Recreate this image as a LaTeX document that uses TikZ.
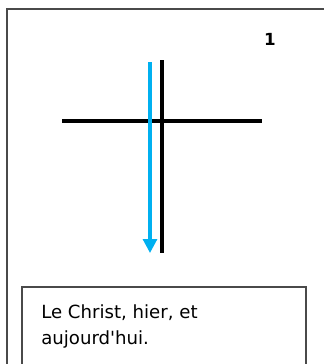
\documentclass[tikz,border=0pt]{standalone}
\usepackage{fontspec}
\setmainfont[Ligatures=TeXOff]{DejaVu Sans}
\usepackage{xcolor}
\usepackage{tikz}
\usetikzlibrary{arrows.meta,positioning}

\definecolor{crossblue}{HTML}{00B0F0}
\definecolor{framegray}{HTML}{4A4A4A}

\begin{document}
\begin{tikzpicture}[
    x=0.75pt,
    y=-0.75pt,
    frame/.style={
        draw=framegray,
        line width=1.2pt
    },
    beam/.style={
        line width=2.3pt,
        black
    },
    flow/.style={
        -{Triangle[length=10.5pt,width=10.5pt]},
        line width=2.3pt,
        crossblue
    },
    numlabel/.style={
        font=\fontsize{12.5}{14}\selectfont\bfseries,
        inner sep=0pt
    },
    caption/.style={
        font=\fontsize{13.6}{19.5}\selectfont,
        align=left,
        inner sep=0pt
    }
]

\useasboundingbox (0,0) rectangle (324,364);
\clip (0,0) rectangle (324,364);

%---------------------------------------------------------------------
% Page frame and page number
%---------------------------------------------------------------------

\draw[frame] (7,9) rectangle (340,380);

\node[numlabel] (num) at (270,39) {1};

%---------------------------------------------------------------------
% Cross
%---------------------------------------------------------------------

\coordinate (barL) at (62,121);
\coordinate (barR) at (262,121);
\coordinate (postT) at (162,60);
\coordinate (postB) at (162,253);

\draw[beam] (barL) -- (barR);
\draw[beam] (postT) -- (postB);

%---------------------------------------------------------------------
% Downward arrow
%---------------------------------------------------------------------

\coordinate (arrT) at (150,62);
\coordinate (arrB) at (150,253);

\draw[flow] (arrT) -- (arrB);

%---------------------------------------------------------------------
% Caption box
%---------------------------------------------------------------------

\draw[frame] (22,287) rectangle (306,380);

\node[caption, anchor=north west] (cap) at (41,304) {
    Le Christ, hier, et\\
    aujourd'hui.
};

\end{tikzpicture}
\end{document}
